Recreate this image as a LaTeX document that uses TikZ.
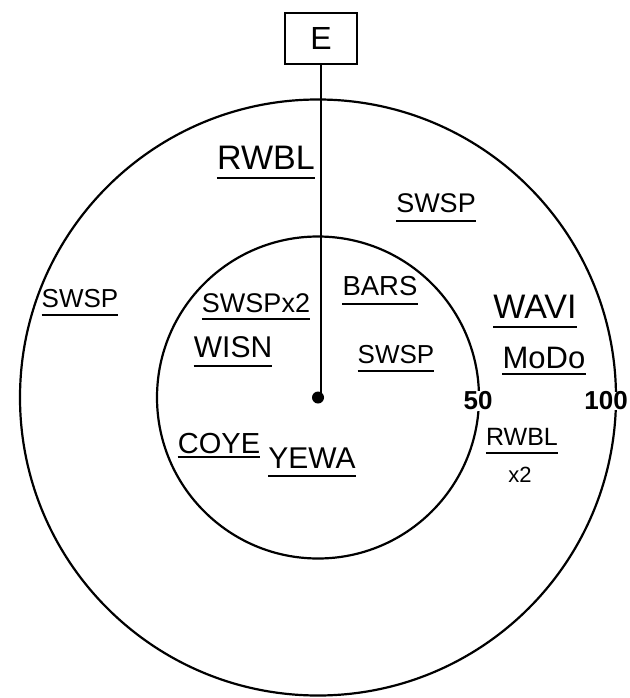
\documentclass[tikz,border=0pt]{standalone}
\usepackage{fontspec}
\setmainfont{Liberation Sans}
\begin{document}
\begin{tikzpicture}[x=1pt,y=-1pt,
  ring/.style={circle, draw, line width=2.2pt, inner sep=0pt},
  lab/.style={inner sep=0pt, text depth=0pt},
  ul/.style={append after command={([yshift=-#1]\tikzlastnode.south west) edge[line width=2pt] ([yshift=-#1]\tikzlastnode.south east)}},
  ul/.default=8pt,
  scal/.style={inner sep=1pt, fill=white, font=\bfseries\fontsize{26}{26}\selectfont}]
\useasboundingbox (0,0) rectangle (629,698);
\clip (0,0) rectangle (629,698);
\coordinate (c) at (318,397.5);
\node[ring, minimum size=596pt] (outer) at (c) {};
\node[ring, minimum size=322pt] (inner) at (c) {};
\node[draw, line width=2pt, minimum width=72pt, minimum height=51pt, inner sep=0pt,
      font=\fontsize{32}{32}\selectfont] (E) at (321,38.5) {E};
\node[circle, fill, inner sep=0pt, minimum size=12pt] (dot) at (c) {};
\draw[line width=2.4pt] (E.south) -- (E.south |- dot.center) -- (dot.center);
\node[scal] (s50) at (478,401) {50};
\node[scal, anchor=east, inner sep=0pt] (s100) at (628,401) {100};
% species labels
\node[lab, ul, font=\fontsize{34}{34}\selectfont] (rwbl1) at (266,158) {RWBL};
\node[lab, ul, font=\fontsize{27}{27}\selectfont] (swsp1) at (436,203) {SWSP};
\node[lab, ul, font=\fontsize{26}{26}\selectfont] (swsp2) at (80,298) {SWSP};
\node[lab, ul=6pt, font=\fontsize{27}{27}\selectfont] (swsp3) at (256,303) {SWSPx2};
\node[lab, ul, font=\fontsize{27.5}{27.5}\selectfont] (bars) at (380,286) {BARS};
\node[lab, ul, font=\fontsize{30}{30}\selectfont] (wisn) at (233,347) {WISN};
\node[lab, ul, font=\fontsize{26}{26}\selectfont] (swsp4) at (396,354) {SWSP};
\node[lab, ul, font=\fontsize{34}{34}\selectfont] (wavi) at (535,307) {WAVI};
\node[lab, ul=5pt, font=\fontsize{31}{31}\selectfont] (modo) at (544,358) {MoDo};
\node[lab, ul=7pt, font=\fontsize{25}{25}\selectfont] (rwbl2) at (522,437) {RWBL};
\node[lab, font=\fontsize{22}{22}\selectfont] (x2) at (520,475) {x2};
\node[lab, ul=4pt, font=\fontsize{29}{29}\selectfont] (coye) at (219,443) {COYE};
\node[lab, ul=7pt, font=\fontsize{30}{30}\selectfont] (yewa) at (312,458) {YEWA};
\end{tikzpicture}
\end{document}
